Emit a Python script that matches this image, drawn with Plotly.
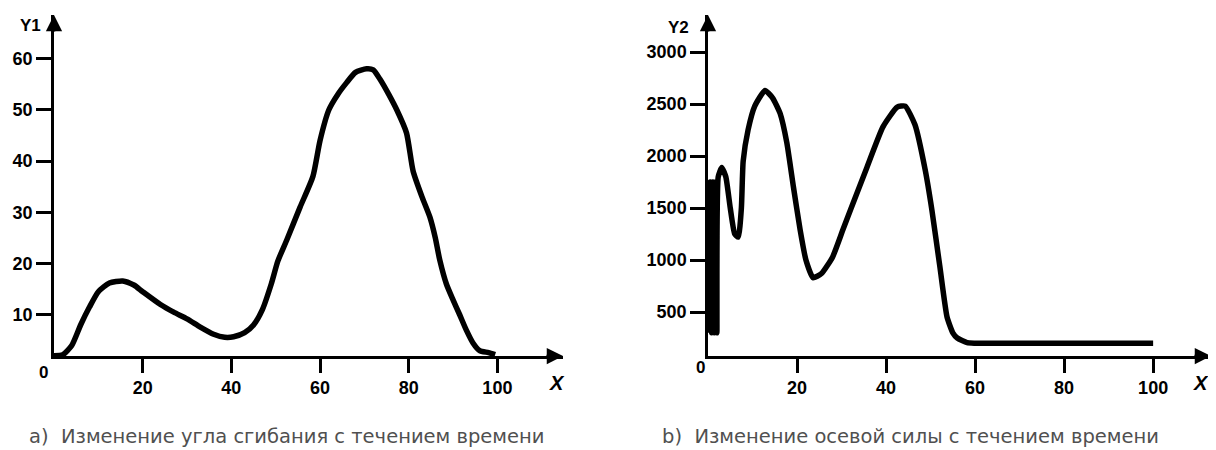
import plotly.graph_objects as go

# ---- data: a) bending angle over time ----
x1 = [0, 2, 4, 6, 8, 10, 12.5, 15.5, 18, 20, 24, 27, 30, 33, 36, 38.5, 40.5, 43, 45, 47, 49,
      50.5, 52.5, 55.5, 58.4, 60, 62, 64, 66, 68, 70.5, 72, 73.5, 75.5, 77.3, 79.5, 81, 83,
      84.8, 86, 87, 88.5, 90, 91.5, 93, 94.5, 96, 98, 99.5]
y1 = [2, 2.2, 4, 8, 11.5, 14.5, 16.2, 16.6, 15.8, 14.5, 12, 10.5, 9.2, 7.6, 6.2, 5.6, 5.7, 6.5,
      8, 11, 16, 20.5, 24.6, 31, 37, 44, 50, 53, 55.3, 57.3, 58, 57.8, 56, 53, 50, 45.5, 38,
      33, 29, 25, 20.7, 16, 12.9, 10, 7, 4.5, 3, 2.6, 2.2]

# ---- data: b) axial force over time ----
x2 = [0.2, 0.5, 0.8, 1.1, 1.4, 1.7, 2.0, 2.3, 3.1, 4.0, 5.0, 6.0, 6.8, 7.5, 7.9, 9.0, 10.5,
      12.8, 14.5, 16.2, 17.7, 19.2, 20.7, 22.0, 23.6, 25.5, 28, 30.3, 32, 35.7, 39.3, 42.5,
      44.3, 46.5, 48.8, 50.3, 52.1, 53.7, 55, 56, 58.2, 60, 80, 98, 100]
y2 = [300, 1750, 300, 1750, 300, 1750, 300, 1800, 1890, 1800, 1500, 1250, 1220, 1500, 1950,
      2250, 2480, 2630, 2560, 2410, 2130, 1700, 1290, 1000, 830, 870, 1030, 1290, 1480, 1890,
      2280, 2470, 2480, 2300, 1865, 1480, 933, 452, 300, 250, 205, 200, 200, 200, 200]

x_ticks = [20, 40, 60, 80, 100]
y1_ticks = [10, 20, 30, 40, 50, 60]
y2_ticks = [500, 1000, 1500, 2000, 2500, 3000]

captions = ["а)  Изменение угла сгибания с течением времени",
            "b)  Изменение осевой силы с течением времени"]

# the page body has an 8px margin, so the figure is laid out in page pixels minus 8
OFF = 8
W, H = 1216 - OFF, 450 - OFF
TOP, BOTTOM = 15 - OFF, 356 - OFF
PH = BOTTOM - TOP


def px(xp):  # page pixel x -> paper x
    return (xp - OFF) / W


def py(yp):  # page pixel y -> paper y
    return (BOTTOM - (yp - OFF)) / PH


FAM = "Liberation Sans, Arial, sans-serif"
tickfont = dict(family=FAM, size=18, color="black", weight="bold")

fig = go.Figure()
fig.add_trace(go.Scatter(x=x1, y=y1, mode="lines", xaxis="x", yaxis="y",
                         line=dict(color="black", width=5.5, shape="spline", smoothing=0.6),
                         showlegend=False, hoverinfo="skip"))
fig.add_trace(go.Scatter(x=x2, y=y2, mode="lines", xaxis="x2", yaxis="y2",
                         line=dict(color="black", width=5.5, shape="spline", smoothing=0.5),
                         showlegend=False, hoverinfo="skip"))

common_x = dict(showgrid=False, zeroline=False, showline=True, linecolor="black", linewidth=2.5,
                ticks="outside", ticklen=14, tickwidth=2.5, tickcolor="black",
                tickvals=x_ticks, tickfont=tickfont, fixedrange=True, automargin=False)
common_y = dict(showgrid=False, zeroline=False, showline=True, linecolor="black", linewidth=2.5,
                ticks="outside", ticklen=15, tickwidth=2.5, tickcolor="black",
                tickfont=tickfont, fixedrange=True, automargin=False)

fig.update_layout(
    width=W, height=H,
    margin=dict(l=0, r=0, t=TOP, b=H - BOTTOM, pad=0),
    paper_bgcolor="white", plot_bgcolor="white",
    xaxis=dict(domain=[px(54), px(563)], range=[0, 114.8], anchor="y", **common_x),
    yaxis=dict(domain=[0, 1], range=[1.95, 68.5], anchor="x", tickvals=y1_ticks, **common_y),
    xaxis2=dict(domain=[px(708), px(1211)], range=[0, 113.0], anchor="y2", **common_x),
    yaxis2=dict(domain=[0, 1], range=[77, 3356], anchor="x2", tickvals=y2_ticks, **common_y),
)

ann = []
lab = dict(family=FAM, size=17, color="black", weight="bold")
xlab = dict(family=FAM, size=20, color="black", weight="bold", style="italic")
for xr, yr in [("x", "y"), ("x2", "y2")]:
    ann.append(dict(x=0, y=1, xref=f"{xr} domain", yref=f"{yr} domain", ax=0, ay=18,
                    showarrow=True, arrowhead=2, arrowsize=1.3, arrowwidth=2.5,
                    arrowcolor="black", text=""))
    ann.append(dict(x=1, y=0, xref=f"{xr} domain", yref=f"{yr} domain", ax=-18, ay=0,
                    showarrow=True, arrowhead=2, arrowsize=1.3, arrowwidth=2.5,
                    arrowcolor="black", text=""))

for text, xp, yp, font in [("Y1", 30, 26, lab), ("Y2", 678, 28, lab),
                           ("0", 43, 372, lab), ("0", 700, 367, lab),
                           ("X", 557, 383, xlab), ("X", 1201, 383, xlab)]:
    ann.append(dict(x=px(xp), y=py(yp), xref="paper", yref="paper", text=text,
                    showarrow=False, font=font, xanchor="center", yanchor="middle"))

capfont = dict(family="DejaVu Sans, sans-serif", size=19.5, color="#505050")
ann.append(dict(x=px(286), y=py(436), xref="paper", yref="paper", text=captions[0],
                showarrow=False, font=capfont, xanchor="center", yanchor="middle"))
ann.append(dict(x=px(910), y=py(436), xref="paper", yref="paper", text=captions[1],
                showarrow=False, font=capfont, xanchor="center", yanchor="middle"))
fig.update_layout(annotations=ann)

fig.write_html("out.html")
